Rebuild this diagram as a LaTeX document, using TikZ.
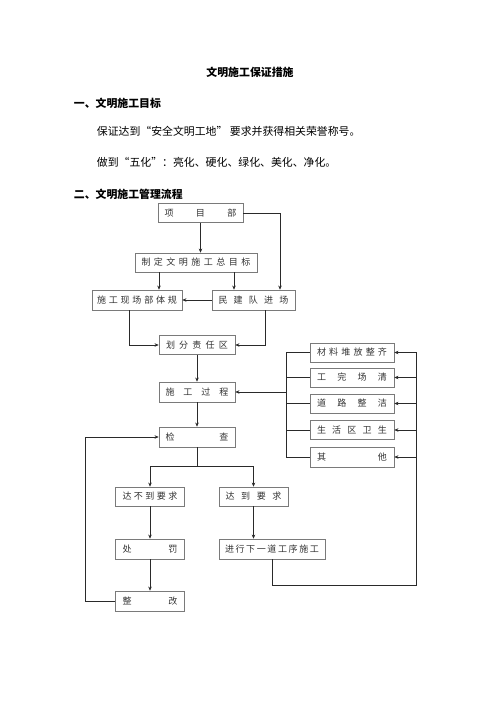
\documentclass[tikz,border=0pt]{standalone}
\usepackage{fontspec}
\setmainfont{Noto Sans CJK SC}
\usepackage{tikz}
\usetikzlibrary{arrows.meta,positioning,calc}
\newdimen\upx \upx=0.42mm
\newcommand{\kz}[2]{\hbox to #1\upx{#2}}
\definecolor{boxline}{HTML}{7A7A7A}
\definecolor{boxtext}{HTML}{333333}
\definecolor{linecol}{HTML}{2A2A2A}
\tikzstyle{box} = [draw=boxline, line width=0.6pt, minimum height=19\upx, inner sep=0pt, text=boxtext, font=\fontsize{10.8}{12}\selectfont]
\tikzstyle{arrow} = [line width=0.75pt, draw=linecol, -{Stealth[length=5pt,width=4.2pt]}]
\tikzstyle{line} = [line width=0.75pt, draw=linecol]

\begin{document}
\begin{tikzpicture}[x=0.42mm, y=-0.42mm]
	\useasboundingbox (0,0) rectangle (500,707);
	% text above the chart
	\node (title) at (250,72) {\fontsize{13}{15}\selectfont\bfseries 文明施工保证措施};
	\node[anchor=west] (head1) at (71,103) {\fontsize{13}{15}\selectfont\bfseries 一、文明施工目标};
	\node[anchor=west] (goal1) at (94,131) {\fontsize{13}{15}\selectfont 保证达到“安全文明工地” 要求并获得相关荣誉称号。};
	\node[anchor=west] (goal2) at (94,162) {\fontsize{13}{15}\selectfont 做到“五化”：亮化、硬化、绿化、美化、净化。};
	\node[anchor=west] (head2) at (71,194) {\fontsize{13}{15}\selectfont\bfseries 二、文明施工管理流程};

	% boxes
	\node[box, minimum width=85\upx] (xmb) at (200.5,213) {\kz{72}{项\hfil 目\hfil 部}};
	\node[box, minimum width=122\upx] (zdmb) at (196,262.5) {\kz{109}{制\hfil 定\hfil 文\hfil 明\hfil 施\hfil 工\hfil 总\hfil 目\hfil 标}};
	\node[box, minimum width=90\upx, minimum height=20\upx] (xcgf) at (137,300) {\kz{80}{施\hfil 工\hfil 现\hfil 场\hfil 部\hfil 体\hfil 规}};
	\node[box, minimum width=83\upx, minimum height=20\upx] (mjd) at (253.5,300) {\kz{70}{民\hfil 建\hfil 队\hfil 进\hfil 场}};
	\node[box, minimum width=76\upx] (hfzr) at (197,345) {\kz{62}{划\hfil 分\hfil 责\hfil 任\hfil 区}};
	\node[box, minimum width=76\upx, minimum height=20\upx] (sggc) at (197,392) {\kz{63}{施\hfil 工\hfil 过\hfil 程}};
	\node[box, minimum width=76\upx, minimum height=20\upx] (jc) at (197,437) {\kz{63}{检\hfil 查}};

	\node[box, minimum width=84\upx] (cl) at (352,352.5) {\kz{70}{材\hfil 料\hfil 堆\hfil 放\hfil 整\hfil 齐}};
	\node[box, minimum width=84\upx] (gw) at (352,377.5) {\kz{70}{工\hfil 完\hfil 场\hfil 清}};
	\node[box, minimum width=84\upx] (dl) at (352,403.5) {\kz{70}{道\hfil 路\hfil 整\hfil 洁}};
	\node[box, minimum width=84\upx] (shq) at (352,430) {\kz{70}{生\hfil 活\hfil 区\hfil 卫\hfil 生}};
	\node[box, minimum width=84\upx, minimum height=20\upx] (qt) at (352,457) {\kz{70}{其\hfil 他}};

	\node[box, minimum width=69\upx] (bdyq) at (150,496.5) {\kz{55}{达\hfil 不\hfil 到\hfil 要\hfil 求}};
	\node[box, minimum width=69\upx] (ddyq) at (253.5,496.5) {\kz{56}{达\hfil 到\hfil 要\hfil 求}};
	\node[box, minimum width=69\upx, minimum height=20\upx] (cf) at (150,549) {\kz{55}{处\hfil 罚}};
	\node[box, minimum width=106\upx, minimum height=20\upx] (xyd) at (272,549) {\kz{94}{进\hfil 行\hfil 下\hfil 一\hfil 道\hfil 工\hfil 序\hfil 施\hfil 工}};
	\node[box, minimum width=69\upx, minimum height=20\upx] (zg) at (150,601) {\kz{55}{整\hfil 改}};

	% helper coordinates
	\coordinate (zdl) at ($(zdmb.south)+(-37,0)$);
	\coordinate (zdr) at ($(zdmb.south)+(38,0)$);
	\coordinate (mjr) at ($(mjd.north)+(26.5,0)$);
	\coordinate (lbus) at ($(cl.west)+(-23,0)$);
	\coordinate (rbus) at ($(qt.east)+(22,128)$);
	\coordinate (split) at ($(jc.south)+(0,19)$);

	% connectors
	\draw[arrow] (xmb.south) -- (xmb.south |- zdmb.north);
	\draw[arrow] (xmb.east) -| (mjr);
	\draw[arrow] (zdl) -- (zdl |- xcgf.north);
	\draw[arrow] (zdr) -- (zdr |- mjd.north);
	\draw[arrow] (mjd.west) -- (xcgf.east);
	\draw[arrow] ($(xcgf.south)+(-8,0)$) |- (hfzr.west);
	\draw[arrow] ($(mjd.south)+(11.5,0)$) |- (hfzr.east);
	\draw[arrow] (hfzr.south) -- (sggc.north);
	\draw[arrow] (sggc.south) -- (jc.north);

	\draw[line] (cl.west) -- (lbus) |- (qt.west);
	\draw[line] (gw.west) -- (gw.west -| lbus);
	\draw[line] (dl.west) -- (dl.west -| lbus);
	\draw[line] (shq.west) -- (shq.west -| lbus);
	\draw[arrow] (sggc.east -| lbus) -- (sggc.east);

	\draw[line] (jc.south) -- (split);
	\draw[arrow] (split) -| (bdyq.north);
	\draw[arrow] (split) -| (ddyq.north);
	\draw[arrow] (bdyq.south) -- (cf.north);
	\draw[arrow] (cf.south) -- (zg.north);
	\draw[arrow] (ddyq.south) -- (ddyq.south |- xyd.north);
	\draw[arrow] (zg.west) -- ++(-30,0) |- (jc.west);

	\draw[arrow] (xyd.south) |- (rbus) |- (cl.east);
	\draw[arrow] (gw.east -| rbus) -- (gw.east);
	\draw[arrow] (dl.east -| rbus) -- (dl.east);
	\draw[arrow] (shq.east -| rbus) -- (shq.east);
	\draw[arrow] (qt.east -| rbus) -- (qt.east);
\end{tikzpicture}
\end{document}
